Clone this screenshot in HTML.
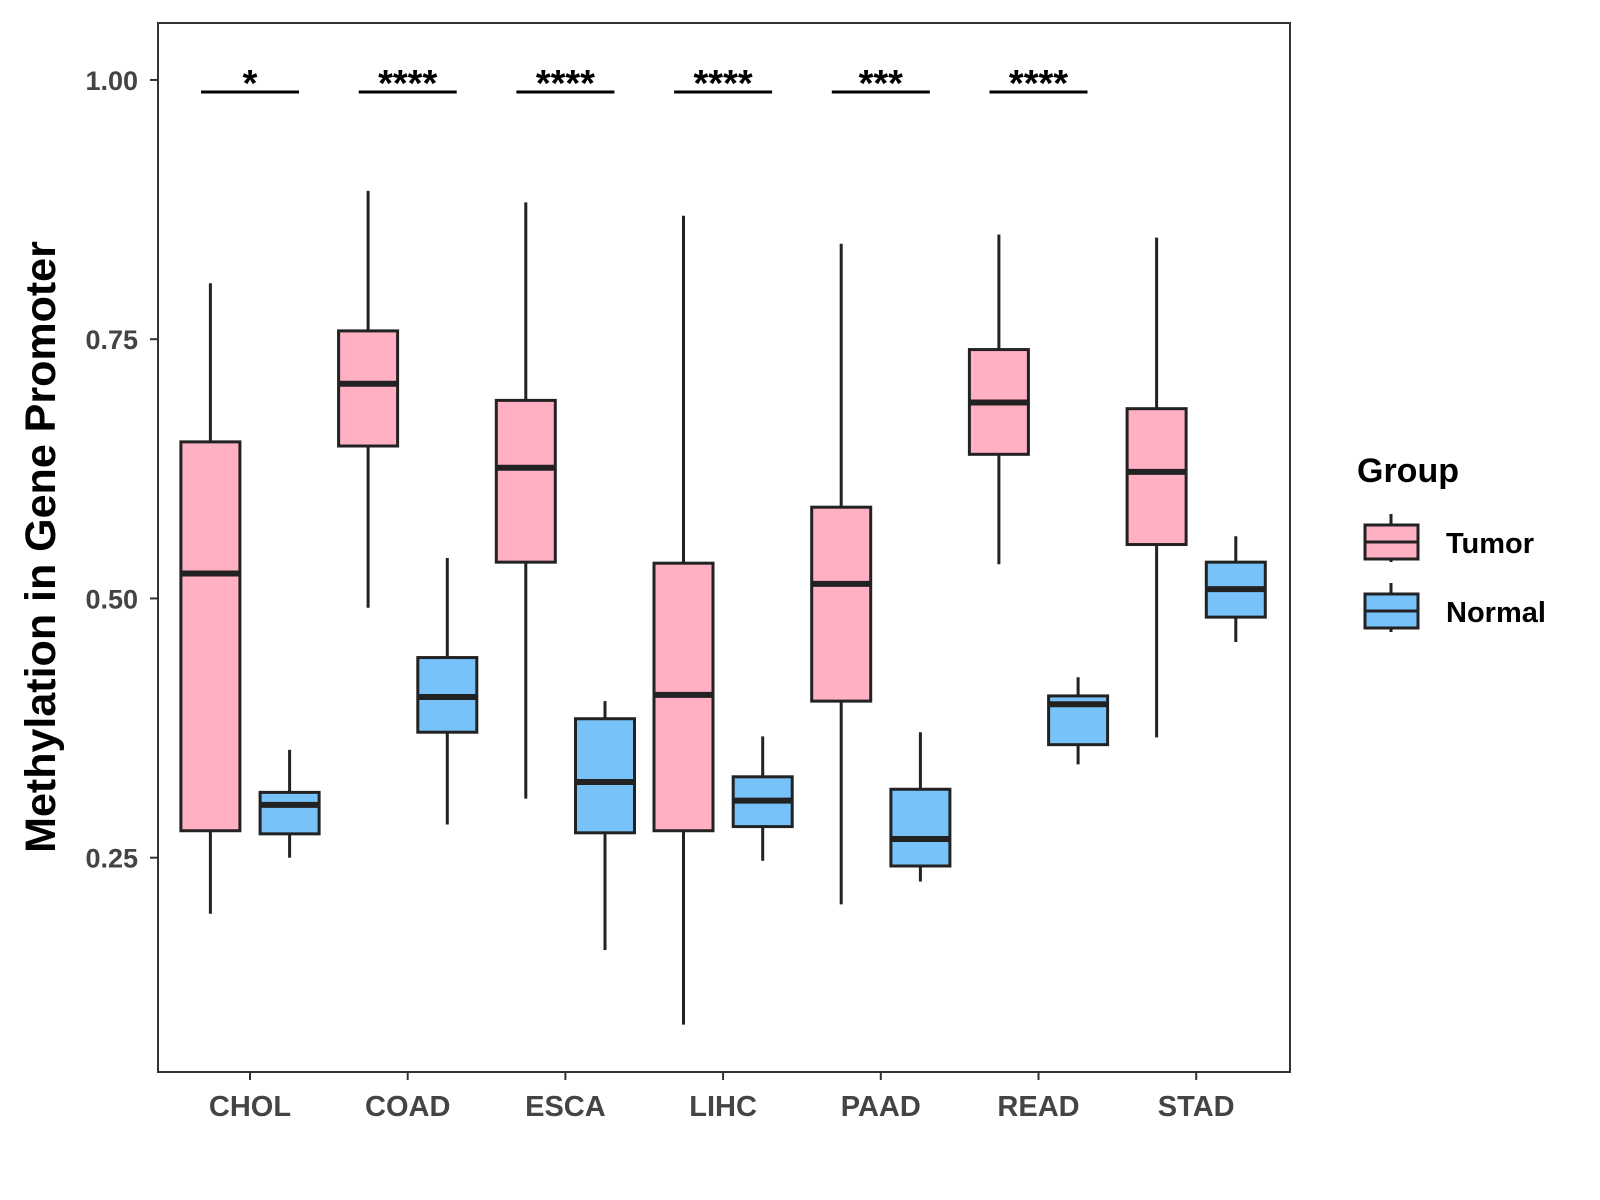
<!DOCTYPE html>
<html><head><meta charset="utf-8"><style>
html,body{margin:0;padding:0;background:#fff;}
svg{display:block;font-family:"Liberation Sans",Arial,sans-serif;}
</style></head><body>
<svg id="chart" width="1600" height="1200" viewBox="0 0 1600 1200">
<rect x="0" y="0" width="1600" height="1200" fill="#fff"/>
<g id="marks"></g>
<rect x="158" y="23" width="1132" height="1049" fill="none" stroke="#333" stroke-width="2"/>
<g id="axes"></g>
<text x="55" y="547" transform="rotate(-90 55 547)" text-anchor="middle" font-size="43" font-weight="bold" fill="#000">Methylation in Gene Promoter</text>
<g>
<text x="1357" y="482" font-size="34" font-weight="bold" fill="#000">Group</text>
<g>
<line x1="1391" y1="514" x2="1391" y2="562" stroke="#222" stroke-width="3"/>
<rect x="1365" y="525" width="53" height="34" fill="#FFB0C2" stroke="#222" stroke-width="3"/>
<line x1="1365" y1="542" x2="1418" y2="542" stroke="#222" stroke-width="3"/>
<text x="1446" y="553" font-size="29" font-weight="bold" fill="#000">Tumor</text>
</g>
<g>
<line x1="1391" y1="583" x2="1391" y2="632" stroke="#222" stroke-width="3"/>
<rect x="1365" y="594" width="53" height="34" fill="#77C2F8" stroke="#222" stroke-width="3"/>
<line x1="1365" y1="611" x2="1418" y2="611" stroke="#222" stroke-width="3"/>
<text x="1446" y="622" font-size="29" font-weight="bold" fill="#000">Normal</text>
</g>
</g>
</svg>
<script>
const categories = ["CHOL","COAD","ESCA","LIHC","PAAD","READ","STAD"];
// [lower whisker, q1, median, q3, upper whisker]
const tumorStats = [
 [0.196,0.276,0.524,0.651,0.804],
 [0.491,0.647,0.707,0.758,0.893],
 [0.307,0.535,0.626,0.691,0.882],
 [0.089,0.276,0.407,0.534,0.869],
 [0.205,0.401,0.514,0.588,0.842],
 [0.533,0.639,0.689,0.740,0.851],
 [0.366,0.552,0.622,0.683,0.848]
];
const normalStats = [
 [0.250,0.273,0.301,0.313,0.354],
 [0.282,0.371,0.405,0.443,0.539],
 [0.161,0.274,0.323,0.384,0.401],
 [0.247,0.280,0.305,0.328,0.367],
 [0.227,0.242,0.268,0.316,0.371],
 [0.340,0.359,0.398,0.406,0.424],
 [0.458,0.482,0.509,0.535,0.560]
];
const significance = ["*","****","****","****","***","****",""];
const yTicks = [0.25,0.50,0.75,1.00];
const yTickLabels = ["0.25","0.50","0.75","1.00"];

const NS="http://www.w3.org/2000/svg";
function y(v){ return 857.7 - (v-0.25)*1037; }
function xc(i){ return 250 + i*157.7; }
const marks=document.getElementById('marks');
const axes=document.getElementById('axes');
function mk(tag,attrs,parent){const e=document.createElementNS(NS,tag);for(const k in attrs)e.setAttribute(k,attrs[k]);parent.appendChild(e);return e;}

function drawBox(cx,s,fill,name){
  const g=mk('g',{},marks);
  
  
  const hw=29.5;
  mk('line',{x1:cx,x2:cx,y1:y(s[4]),y2:y(s[3]),stroke:'#222','stroke-width':3},g);
  mk('line',{x1:cx,x2:cx,y1:y(s[1]),y2:y(s[0]),stroke:'#222','stroke-width':3},g);
  mk('rect',{x:cx-hw,y:y(s[3]),width:2*hw,height:y(s[1])-y(s[3]),fill:fill,stroke:'#222','stroke-width':3},g);
  mk('line',{x1:cx-hw,x2:cx+hw,y1:y(s[2]),y2:y(s[2]),stroke:'#222','stroke-width':6},g);
}
categories.forEach((c,i)=>{
  drawBox(xc(i)-39.6,tumorStats[i],'#FFB0C2','box-tumor-'+c.toLowerCase());
  drawBox(xc(i)+39.6,normalStats[i],'#77C2F8','box-normal-'+c.toLowerCase());
  if(significance[i]){
    const g=mk('g',{},marks);
    
    
    mk('line',{x1:xc(i)-49,x2:xc(i)+49,y1:92,y2:92,stroke:'#000','stroke-width':3},g);
    const t=mk('text',{x:xc(i),y:96,'text-anchor':'middle','font-size':38,'font-weight':'bold',fill:'#000'},g);
    t.textContent=significance[i];
  }
  mk('line',{x1:xc(i),x2:xc(i),y1:1072,y2:1080,stroke:'#333','stroke-width':2},axes);
  const t=mk('text',{x:xc(i),y:1116,'text-anchor':'middle','font-size':29,'font-weight':'bold',fill:'#444'},axes);
  
  
  t.textContent=c;
});
yTicks.forEach((v,i)=>{
  mk('line',{x1:150,x2:158,y1:y(v),y2:y(v),stroke:'#333','stroke-width':2},axes);
  const t=mk('text',{x:138,y:y(v)+10,'text-anchor':'end','font-size':27,'font-weight':'bold',fill:'#444'},axes);
  
  
  t.textContent=yTickLabels[i];
});
</script>
</body></html>
